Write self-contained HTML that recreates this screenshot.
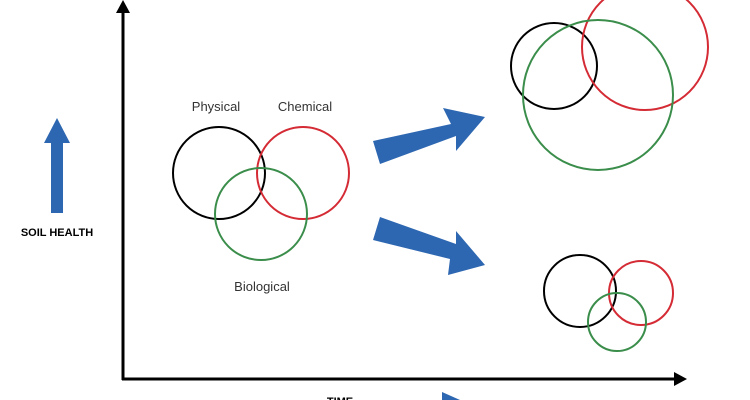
<!DOCTYPE html>
<html><head><style>body{margin:0;background:#fff}svg{display:block}text{font-family:"Liberation Sans",sans-serif}</style></head><body>
<svg width="750" height="400" viewBox="0 0 750 400" xmlns="http://www.w3.org/2000/svg">
<line x1="123" y1="10" x2="123" y2="380" stroke="#000" stroke-width="3"/>
<polygon points="123,0 116,13 130,13" fill="#000"/>
<line x1="122" y1="379" x2="676" y2="379" stroke="#000" stroke-width="3"/>
<polygon points="687,379 674,372 674,386" fill="#000"/>
<polygon points="51,213 51,143 44,143 57,118 70,143 63,143 63,213" fill="#2e67b1"/>
<text x="57" y="236" font-size="11" font-weight="bold" text-anchor="middle">SOIL HEALTH</text>
<text x="340" y="405" font-size="11" font-weight="bold" text-anchor="middle">TIME</text>
<polygon points="442,392 442,410 460,400" fill="#2e67b1"/>
<polygon points="373,141 451,124 443,108 485,117 456,151 456,136 380,164" fill="#2e67b1"/>
<polygon points="380,217 456,244 456,231 485,265 448,275 450,259 373,240" fill="#2e67b1"/>
<circle cx="219" cy="173" r="46" fill="none" stroke="#000" stroke-width="2"/>
<circle cx="303" cy="173" r="46" fill="none" stroke="#d42b35" stroke-width="2"/>
<circle cx="261" cy="214" r="46" fill="none" stroke="#3a8d4a" stroke-width="2"/>
<text x="216" y="111" font-size="13" text-anchor="middle" fill="#333">Physical</text>
<text x="305" y="111" font-size="13" text-anchor="middle" fill="#333">Chemical</text>
<text x="262" y="291" font-size="13" text-anchor="middle" fill="#333">Biological</text>
<circle cx="554" cy="66" r="43" fill="none" stroke="#000" stroke-width="2"/>
<circle cx="645" cy="47" r="63" fill="none" stroke="#d42b35" stroke-width="2"/>
<circle cx="598" cy="95" r="75" fill="none" stroke="#3a8d4a" stroke-width="2"/>
<circle cx="580" cy="291" r="36" fill="none" stroke="#000" stroke-width="2"/>
<circle cx="641" cy="293" r="32" fill="none" stroke="#d42b35" stroke-width="2"/>
<circle cx="617" cy="322" r="29" fill="none" stroke="#3a8d4a" stroke-width="2"/>
</svg>
</body></html>
